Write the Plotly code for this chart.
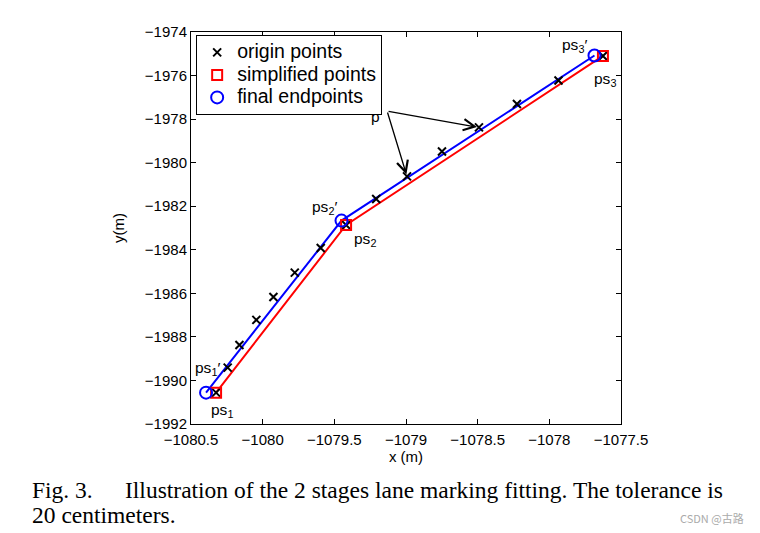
import plotly.graph_objects as go

# origin points (x markers)
orig_x = [-1080.325, -1080.244, -1080.162, -1080.044, -1079.925, -1079.776, -1079.595,
          -1079.418, -1079.208, -1078.993, -1078.749, -1078.491, -1078.226, -1077.936, -1077.626]
orig_y = [-1990.56, -1989.41, -1988.37, -1987.22, -1986.17, -1985.05, -1983.92,
          -1982.86, -1981.67, -1980.63, -1979.49, -1978.38, -1977.31, -1976.23, -1975.10]

# simplified points (red squares)
simp_x = [-1080.325, -1079.418, -1077.626]
simp_y = [-1990.56, -1982.86, -1975.10]

# final endpoints (blue circles)
fin_x = [-1080.395, -1079.450, -1077.685]
fin_y = [-1990.56, -1982.66, -1975.08]

# point labels
lab_text = ["ps<sub>1</sub>′", "ps<sub>1</sub>", "ps<sub>2</sub>′", "ps<sub>2</sub>",
            "ps<sub>3</sub>′", "ps<sub>3</sub>", "p"]
lab_x = [-1080.386, -1080.281, -1079.569, -1079.283, -1077.825, -1077.615, -1079.213]
lab_y = [-1989.43, -1991.36, -1982.08, -1983.55, -1974.60, -1976.20, -1977.90]

arrow_start = (-1079.132, -1977.63)
arrow_targets = [9, 11]

x_ticks = [-1080.5, -1080, -1079.5, -1079, -1078.5, -1078, -1077.5]
x_ticktext = ["−1080.5", "−1080", "−1079.5", "−1079", "−1078.5", "−1078", "−1077.5"]
y_ticks = [-1992, -1990, -1988, -1986, -1984, -1982, -1980, -1978, -1976, -1974]
y_ticktext = ["−1992", "−1990", "−1988", "−1986", "−1984", "−1982", "−1980", "−1978", "−1976", "−1974"]

legend_names = ["origin points", "simplified points", "final endpoints"]


def leg(name):
    return '<span style="font-size:19.5px">' + name + '</span>'


fig = go.Figure()
fig.add_trace(go.Scatter(x=simp_x, y=simp_y, mode="lines", line=dict(color="#ff0000", width=2),
                         showlegend=False, hoverinfo="skip"))
fig.add_trace(go.Scatter(x=fin_x, y=fin_y, mode="lines", line=dict(color="#0000ff", width=2),
                         showlegend=False, hoverinfo="skip"))
fig.add_trace(go.Scatter(x=orig_x, y=orig_y, mode="markers", name=leg(legend_names[0]),
                         marker=dict(symbol="x-thin", size=8, color="black",
                                     line=dict(color="black", width=2))))
fig.add_trace(go.Scatter(x=simp_x, y=simp_y, mode="markers", name=leg(legend_names[1]),
                         marker=dict(symbol="square-open", size=10, color="#ff0000",
                                     line=dict(color="#ff0000", width=2))))
fig.add_trace(go.Scatter(x=fin_x, y=fin_y, mode="markers", name=leg(legend_names[2]),
                         marker=dict(symbol="circle-open", size=12, color="#0000ff",
                                     line=dict(color="#0000ff", width=2))))

for t, x, y in zip(lab_text, lab_x, lab_y):
    fig.add_annotation(x=x, y=y, text=t, showarrow=False,
                       font=dict(family="Liberation Sans, Arial", size=15.5, color="black"))

for i in arrow_targets:
    fig.add_annotation(x=orig_x[i], y=orig_y[i], ax=arrow_start[0], ay=arrow_start[1],
                       axref="x", ayref="y", xref="x", yref="y", text="", showarrow=True,
                       arrowhead=5, arrowsize=1.7, arrowwidth=1.3, arrowcolor="black", standoff=2)

cap_font = dict(family="Liberation Serif, Times New Roman", size=23.5, color="black")
fig.add_annotation(xref="paper", yref="paper", x=(30 - 191) / 430, y=(424 - 490) / 392,
                   text="Fig. 3.", showarrow=False, xanchor="left", yanchor="middle", font=cap_font)
fig.add_annotation(xref="paper", yref="paper", x=(123 - 191) / 430, y=(424 - 490) / 392,
                   text="Illustration of the 2 stages lane marking fitting. The tolerance is",
                   showarrow=False, xanchor="left", yanchor="middle", font=cap_font)
fig.add_annotation(xref="paper", yref="paper", x=(30 - 191) / 430, y=(424 - 515) / 392,
                   text="20 centimeters.", showarrow=False, xanchor="left", yanchor="middle", font=cap_font)
fig.add_annotation(xref="paper", yref="paper", x=(746 - 191) / 430, y=(424 - 518) / 392,
                   text="CSDN @古路", showarrow=False, xanchor="right", yanchor="middle",
                   font=dict(family="Noto Sans CJK SC", size=11, color="#aaaaaa"))

axis_common = dict(showline=True, linecolor="black", linewidth=1, mirror="ticks",
                   ticks="inside", ticklen=5, tickcolor="black", showgrid=False, zeroline=False,
                   tickfont=dict(family="Liberation Sans, Arial", size=15, color="black"),
                   title_font=dict(family="Liberation Sans, Arial", size=15, color="black"))

fig.update_xaxes(range=[-1080.5, -1077.5], tickvals=x_ticks, ticktext=x_ticktext,
                 ticklabelstandoff=2, title_text="x (m)", title_standoff=2, **axis_common)
fig.update_yaxes(range=[-1992, -1974], tickvals=y_ticks, ticktext=y_ticktext,
                 title_text="y(m)", title_standoff=16, **axis_common)

# page body has an 8px margin, so the figure is 8px smaller and offset accordingly
fig.update_layout(
    width=752, height=525,
    margin=dict(l=183, r=139, t=24, b=109, autoexpand=False),
    paper_bgcolor="white", plot_bgcolor="white",
    legend=dict(x=0.012, y=0.992, xanchor="left", yanchor="top",
                bordercolor="black", borderwidth=1, bgcolor="white",
                font=dict(family="Liberation Sans, Arial", size=15, color="black"),
                tracegroupgap=0, itemwidth=30),
)

fig.write_html("out.html")
